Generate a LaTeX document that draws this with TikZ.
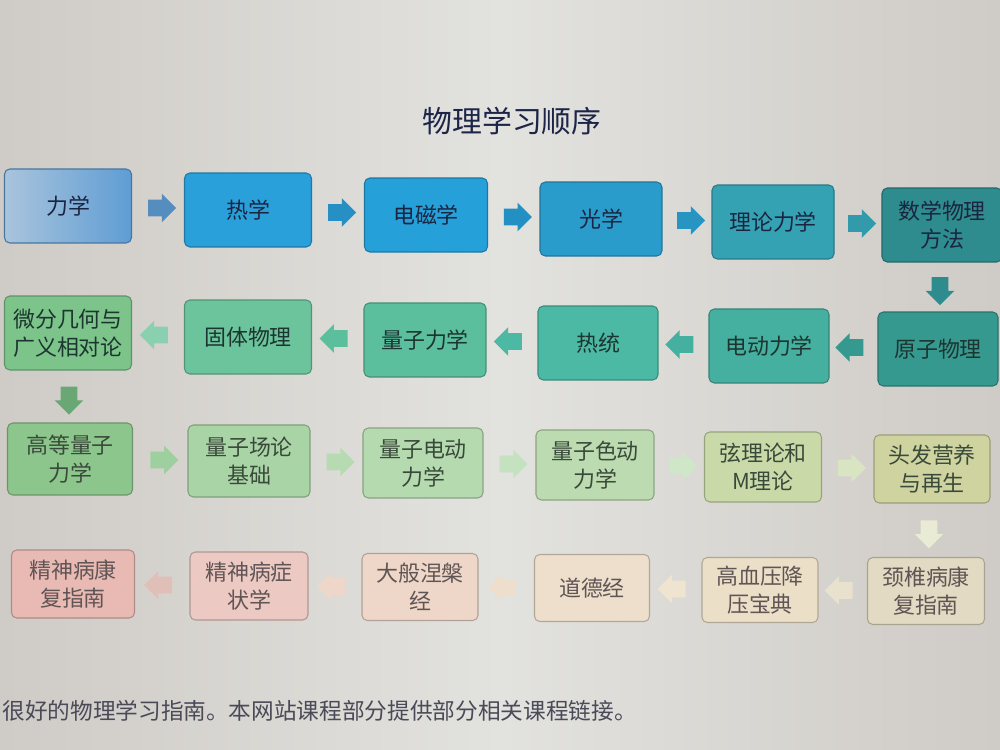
\documentclass[tikz,border=0pt]{standalone}
\usepackage{fontspec}
\setmainfont{Noto Sans CJK SC}
\usetikzlibrary{shapes.arrows,calc}

% box colours
\definecolor{bA}{HTML}{5F9DD4}\definecolor{bAl}{HTML}{A9C4DC}
\definecolor{bB}{HTML}{2AA0DA}\definecolor{bC}{HTML}{26A0D8}
\definecolor{bD}{HTML}{2A9CCC}\definecolor{bE}{HTML}{35A2B4}
\definecolor{bF}{HTML}{2E8C8E}
\definecolor{gF}{HTML}{36998F}\definecolor{gE}{HTML}{45B0A0}
\definecolor{gD}{HTML}{4CB9A4}\definecolor{gC}{HTML}{5BBF9E}
\definecolor{gB}{HTML}{6CC49C}\definecolor{gA}{HTML}{7CC48A}
\definecolor{lA}{HTML}{8DC68D}\definecolor{lB}{HTML}{A9D5A6}
\definecolor{lC}{HTML}{B5DAB0}\definecolor{lD}{HTML}{BCDBB0}
\definecolor{lE}{HTML}{C9DAA8}\definecolor{lF}{HTML}{CFD3A0}
\definecolor{pA}{HTML}{E9BAB4}\definecolor{pB}{HTML}{ECC9C2}
\definecolor{pC}{HTML}{EED7C8}\definecolor{pD}{HTML}{EEDFCC}
\definecolor{pE}{HTML}{EBDFC8}\definecolor{pF}{HTML}{E2DAC2}
% text colours
\definecolor{tA}{HTML}{1A2540}\definecolor{tB}{HTML}{1D3530}
\definecolor{tC}{HTML}{3A4A3A}\definecolor{tD}{HTML}{605555}
\definecolor{titlec}{HTML}{1C2448}\definecolor{footc}{HTML}{4A4A58}
\definecolor{bgmid}{HTML}{E2E2DE}\definecolor{bgside}{HTML}{CFCBC6}

\tikzset{
  box/.style={rounded corners=3pt, minimum width=2.5cm, minimum height=1.48cm,
    align=center, inner sep=1pt, font=\fontsize{12.5}{16}\selectfont,
    fill=#1, draw=#1!75!black, line width=0.6pt},
  barrow/.style={single arrow, draw=none, fill=#1, minimum height=0.56cm,
    inner xsep=0pt, inner ysep=0.16cm, single arrow head extend=0.12cm},
  toright/.style={shape border rotate=0},
  toleft/.style={shape border rotate=180},
  todown/.style={shape border rotate=270, inner xsep=0.16cm, inner ysep=0pt},
}

\begin{document}
\begin{tikzpicture}[x=0.02cm,y=-0.02cm]
\useasboundingbox (0,0) rectangle (1000,750);
\clip (0,0) rectangle (1000,750);
\shade[left color=bgside, right color=bgside, middle color=bgmid] (0,0) rectangle (1000,750);

\node[font=\fontsize{17}{20}\selectfont, text=titlec] (title) at (512,121) {物理学习顺序};

% row 1
\node[box=bA, left color=bAl, right color=bA, text=tA, minimum width=2.54cm] (r1a) at (68,206) {力学};
\node[box=bB, text=tA, minimum width=2.54cm] (r1b) at (248,210) {热学};
\node[box=bC, text=tA, minimum width=2.46cm] (r1c) at (426,215) {电磁学};
\node[box=bD, text=tA, minimum width=2.44cm] (r1d) at (601,219) {光学};
\node[box=bE, text=tA, minimum width=2.44cm] (r1e) at (773,222) {理论力学};
\node[box=bF, text=tA, minimum width=2.4cm] (r1f) at (942,225) {数学物理\\方法};

% row 2
\node[box=gA, text=tB, minimum width=2.54cm] (r2a) at (68,333) {微分几何与\\广义相对论};
\node[box=gB, text=tB, minimum width=2.54cm] (r2b) at (248,337) {固体物理};
\node[box=gC, text=tB, minimum width=2.44cm] (r2c) at (425,340) {量子力学};
\node[box=gD, text=tB, minimum width=2.4cm] (r2d) at (598,343) {热统};
\node[box=gE, text=tB, minimum width=2.4cm] (r2e) at (769,346) {电动力学};
\node[box=gF, text=tB, minimum width=2.4cm] (r2f) at (938,349) {原子物理};

% row 3
\node[box=lA, text=tC, minimum width=2.5cm, minimum height=1.44cm] (r3a) at (70,459) {高等量子\\力学};
\node[box=lB, text=tC, minimum width=2.44cm, minimum height=1.44cm] (r3b) at (249,461) {量子场论\\基础};
\node[box=lC, text=tC, minimum width=2.4cm, minimum height=1.4cm] (r3c) at (423,463) {量子电动\\力学};
\node[box=lD, text=tC, minimum width=2.36cm, minimum height=1.4cm] (r3d) at (595,465) {量子色动\\力学};
\node[box=lE, text=tC, minimum width=2.34cm, minimum height=1.4cm] (r3e) at (763,467) {弦理论和\\M理论};
\node[box=lF, text=tC, minimum width=2.32cm, minimum height=1.36cm] (r3f) at (932,469) {头发营养\\与再生};

% row 4
\node[box=pA, text=tD, minimum width=2.46cm, minimum height=1.36cm] (r4a) at (73,584) {精神病康\\复指南};
\node[box=pB, text=tD, minimum width=2.36cm, minimum height=1.36cm] (r4b) at (249,586) {精神病症\\状学};
\node[box=pC, text=tD, minimum width=2.32cm, minimum height=1.34cm] (r4c) at (420,587) {大般涅槃\\经};
\node[box=pD, text=tD, minimum width=2.3cm, minimum height=1.34cm] (r4d) at (592,588) {道德经};
\node[box=pE, text=tD, minimum width=2.32cm, minimum height=1.3cm] (r4e) at (760,590) {高血压降\\压宝典};
\node[box=pF, text=tD, minimum width=2.34cm, minimum height=1.34cm] (r4f) at (926,591) {颈椎病康\\复指南};

% arrows row 1 (right)
\node[barrow=bA!90!black, toright] (a1ab) at ($(r1a.east)!0.5!(r1b.west)$) {};
\node[barrow=bB!90!black, toright] (a1bc) at ($(r1b.east)!0.5!(r1c.west)$) {};
\node[barrow=bC!90!black, toright] (a1cd) at ($(r1c.east)!0.5!(r1d.west)$) {};
\node[barrow=bD!95!black, toright] (a1de) at ($(r1d.east)!0.5!(r1e.west)$) {};
\node[barrow=bE!95!black, toright] (a1ef) at ($(r1e.east)!0.5!(r1f.west)$) {};
\node[barrow=bF, todown] (a1f2f) at ($(r1f.south)!0.5!(r2f.north)$) {};

% arrows row 2 (left)
\node[barrow=gF, toleft] (a2fe) at ($(r2f.west)!0.5!(r2e.east)$) {};
\node[barrow=gE, toleft] (a2ed) at ($(r2e.west)!0.5!(r2d.east)$) {};
\node[barrow=gD, toleft] (a2dc) at ($(r2d.west)!0.5!(r2c.east)$) {};
\node[barrow=gC, toleft] (a2cb) at ($(r2c.west)!0.5!(r2b.east)$) {};
\node[barrow=gB!80!white, toleft] (a2ba) at ($(r2b.west)!0.5!(r2a.east)$) {};
\node[barrow=gA!85!black, todown] (a2a3a) at ($(r2a.south)!0.5!(r3a.north)$) {};

% arrows row 3 (right)
\node[barrow=lA!85!white, toright] (a3ab) at ($(r3a.east)!0.5!(r3b.west)$) {};
\node[barrow=lB!85!white, toright] (a3bc) at ($(r3b.east)!0.5!(r3c.west)$) {};
\node[barrow=lC!80!white, toright] (a3cd) at ($(r3c.east)!0.5!(r3d.west)$) {};
\node[barrow=lD!70!white, toright] (a3de) at ($(r3d.east)!0.5!(r3e.west)$) {};
\node[barrow=lE!70!white, toright] (a3ef) at ($(r3e.east)!0.5!(r3f.west)$) {};
\node[barrow=lF!45!white, todown] (a3f4f) at ($(r3f.south)!0.5!(r4f.north)$) {};

% arrows row 4 (left)
\node[barrow=pF!80!white, toleft] (a4fe) at ($(r4f.west)!0.5!(r4e.east)$) {};
\node[barrow=pE!85!white, toleft] (a4ed) at ($(r4e.west)!0.5!(r4d.east)$) {};
\node[barrow=pD, toleft] (a4dc) at ($(r4d.west)!0.5!(r4c.east)$) {};
\node[barrow=pC, toleft] (a4cb) at ($(r4c.west)!0.5!(r4b.east)$) {};
\node[barrow=pB!95!black, toleft] (a4ba) at ($(r4b.west)!0.5!(r4a.east)$) {};

% footer
\node[anchor=west, inner sep=0pt, font=\fontsize{12.9}{15}\selectfont, text=footc] (foot) at (2,711) {很好的物理学习指南。本网站课程部分提供部分相关课程链接。};
\end{tikzpicture}
\end{document}
